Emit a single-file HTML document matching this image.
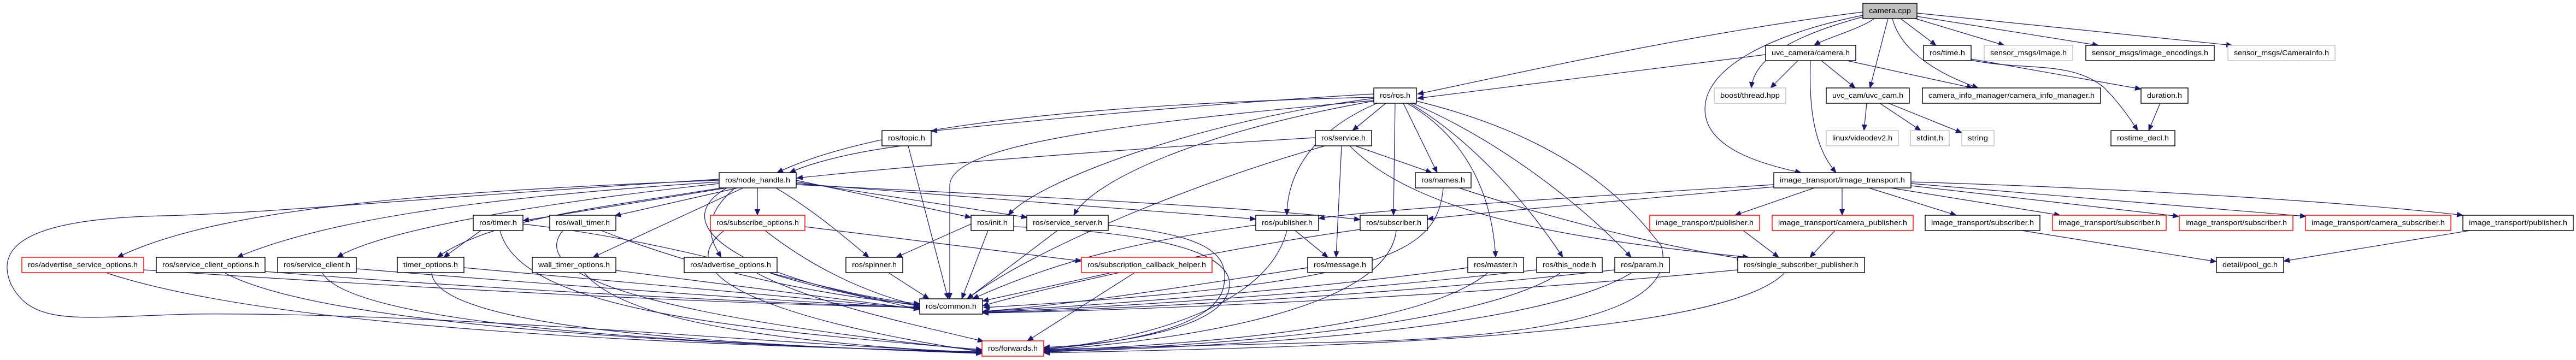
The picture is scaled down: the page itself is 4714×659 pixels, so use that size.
<!DOCTYPE html>
<html><head><meta charset="utf-8"><style>
html,body{margin:0;padding:0;background:#fff;}
svg{display:block;}
text{font-family:"Liberation Sans",sans-serif;font-size:12.5px;fill:#000;}
.e{fill:none;stroke:#191970;stroke-width:1.2;marker-end:url(#ah);}
.n{fill:#fff;stroke:#000;stroke-width:1.4;}
.g{fill:#fff;stroke:#bfbfbf;stroke-width:1.4;}
.r{fill:#fff;stroke:#ff0000;stroke-width:1.4;}
</style></head><body>
<svg width="4714" height="659" viewBox="0 0 4714 659" xmlns="http://www.w3.org/2000/svg">
<defs><marker id="ah" markerWidth="12" markerHeight="10" refX="11" refY="5" orient="auto" markerUnits="userSpaceOnUse"><path d="M0,0 L12,5 L0,10 z" fill="#191970"/></marker></defs>
<g>
<path class="e" d="M3409,22 C3100,60 2750,140 2594,172"/>
<path class="e" d="M3412,30 C3300,60 3210,100 3205,161"/>
<path class="e" d="M3430,34 C3400,55 3340,70 3320,83"/>
<path class="e" d="M3455,34 L3422,161"/>
<path class="e" d="M3463,34 C3480,100 3560,140 3620,161"/>
<path class="e" d="M3478,34 L3543,83"/>
<path class="e" d="M3505,34 L3668,83"/>
<path class="e" d="M3508,30 L3840,83"/>
<path class="e" d="M3508,24 L4085,83"/>
<path class="e" d="M3409,28 C3250,60 3120,120 3120,200 C3120,270 3220,300 3296,316"/>
<path class="e" d="M3231,100 L2594,180"/>
<path class="e" d="M3290,111 L3240,161"/>
<path class="e" d="M3333,111 L3395,161"/>
<path class="e" d="M3380,111 L3610,161"/>
<path class="e" d="M3313,111 C3310,200 3320,270 3360,316"/>
<path class="e" d="M3416,189 L3411,239"/>
<path class="e" d="M3440,189 L3515,239"/>
<path class="e" d="M3456,189 L3590,243"/>
<path class="e" d="M3607,108 L3918,163"/>
<path class="e" d="M3607,110 C3700,130 3790,110 3850,160 C3880,190 3900,220 3912,239"/>
<path class="e" d="M3953,189 L3932,239"/>
<path class="e" d="M2514,172 C2200,190 1900,220 1704,240"/>
<path class="e" d="M2514,178 C2000,190 1600,230 1422,316"/>
<path class="e" d="M1650,267 C1550,280 1480,300 1445,316"/>
<path class="e" d="M2407,252 C2100,270 1700,300 1458,326"/>
<path class="e" d="M2536,189 L2475,239"/>
<path class="e" d="M2514,180 C2200,220 1900,330 1845,394"/>
<path class="e" d="M2514,185 C2200,240 2000,330 1965,394"/>
<path class="e" d="M2520,189 C2400,240 2355,320 2355,394"/>
<path class="e" d="M2553,189 L2550,394"/>
<path class="e" d="M2568,189 L2630,316"/>
<path class="e" d="M2575,189 C2680,250 2730,350 2737,471"/>
<path class="e" d="M2580,189 C2700,260 2800,380 2860,471"/>
<path class="e" d="M2585,189 C2750,260 2900,380 2985,471"/>
<path class="e" d="M2514,184 C2000,230 1738,270 1738,340 L1738,547"/>
<path class="e" d="M2592,185 C2900,260 3000,400 3040,450 C3060,520 3000,610 2500,625 L1910,640"/>
<path class="e" d="M1662,267 L1735,547"/>
<path class="e" d="M2480,267 L2620,316"/>
<path class="e" d="M2455,267 L2445,471"/>
<path class="e" d="M2425,267 C2200,330 1900,450 1770,547"/>
<path class="e" d="M2470,267 C2600,400 2900,440 3200,471"/>
<path class="e" d="M2641,344 C2630,460 2550,520 1800,563"/>
<path class="e" d="M2670,344 C2900,420 3100,460 3190,474"/>
<path class="e" d="M1316,330 C800,350 400,380 215,471"/>
<path class="e" d="M1316,333 C900,360 600,400 434,471"/>
<path class="e" d="M1316,336 C1000,370 700,420 617,471"/>
<path class="e" d="M1320,344 C1100,380 900,400 800,471"/>
<path class="e" d="M880,422 L812,471"/>
<path class="e" d="M1330,344 L957,404"/>
<path class="e" d="M1350,344 L1125,395"/>
<path class="e" d="M1360,344 L1085,471"/>
<path class="e" d="M1386,344 L1386,394"/>
<path class="e" d="M1345,344 C1280,400 1300,440 1320,471"/>
<path class="e" d="M1420,344 C1480,380 1530,420 1590,471"/>
<path class="e" d="M1457,330 L1777,398"/>
<path class="e" d="M1457,333 L1880,398"/>
<path class="e" d="M1457,336 L2298,401"/>
<path class="e" d="M1457,338 C1900,360 2300,380 2489,402"/>
<path class="e" d="M1330,344 C1200,420 1400,520 1683,560"/>
<path class="e" d="M1316,328 C800,360 500,390 300,395 C50,400 -10,450 20,520 C60,600 150,580 350,575 C800,570 1400,630 1797,645"/>
<path class="e" d="M957,410 C1300,450 1500,540 1683,556"/>
<path class="e" d="M915,422 C950,560 1300,600 1797,640"/>
<path class="e" d="M1100,422 C1300,500 1500,540 1683,558"/>
<path class="e" d="M1030,422 C950,520 1300,590 1797,642"/>
<path class="e" d="M1473,415 L1979,478"/>
<path class="e" d="M1400,422 C1500,500 1600,540 1683,560"/>
<path class="e" d="M1325,422 C1200,520 1500,600 1797,644"/>
<path class="e" d="M1777,410 L1640,471"/>
<path class="e" d="M1808,422 L1760,547"/>
<path class="e" d="M1855,415 C2000,420 2250,440 2250,520 C2250,600 2050,630 1910,636"/>
<path class="e" d="M1935,422 L1770,547"/>
<path class="e" d="M2028,412 C2200,430 2250,460 2240,520 C2230,600 2050,630 1910,638"/>
<path class="e" d="M2370,422 L2430,471"/>
<path class="e" d="M2298,412 C2100,440 1950,470 1780,547"/>
<path class="e" d="M2355,422 C2320,560 2100,620 1910,640"/>
<path class="e" d="M2489,420 C2200,460 1900,530 1798,560"/>
<path class="e" d="M2555,422 C2540,560 2200,620 1910,641"/>
<path class="e" d="M263,494 C800,530 1400,560 1683,562"/>
<path class="e" d="M196,500 C500,600 1200,630 1797,644"/>
<path class="e" d="M485,497 C900,530 1400,555 1683,563"/>
<path class="e" d="M412,500 C600,600 1300,630 1797,646"/>
<path class="e" d="M652,492 C1000,520 1400,550 1683,564"/>
<path class="e" d="M590,500 C650,600 1300,630 1797,646"/>
<path class="e" d="M849,490 C1200,520 1500,550 1683,565"/>
<path class="e" d="M790,500 C800,600 1300,630 1797,647"/>
<path class="e" d="M1127,495 C1400,530 1600,555 1683,566"/>
<path class="e" d="M1070,500 C1150,600 1500,630 1797,647"/>
<path class="e" d="M1410,500 C1500,530 1620,550 1683,567"/>
<path class="e" d="M1385,500 C1500,560 1700,600 1800,625"/>
<path class="e" d="M1627,500 L1700,547"/>
<path class="e" d="M2030,500 L1798,551"/>
<path class="e" d="M2075,500 L1880,624"/>
<path class="e" d="M2393,490 C2200,520 1950,560 1798,570"/>
<path class="e" d="M2686,490 C2400,530 2000,560 1798,570"/>
<path class="e" d="M2722,500 C2600,600 2200,630 1910,642"/>
<path class="e" d="M2812,494 C2400,540 2000,565 1798,571"/>
<path class="e" d="M2855,500 C2700,600 2200,635 1910,643"/>
<path class="e" d="M2955,494 C2500,545 2000,568 1798,572"/>
<path class="e" d="M2985,500 C2800,610 2200,636 1910,644"/>
<path class="e" d="M3180,494 C2600,550 2000,570 1798,573"/>
<path class="e" d="M3265,500 C3150,620 2400,636 1910,646"/>
<path class="e" d="M3246,338 C2900,360 2500,385 2413,400"/>
<path class="e" d="M3246,342 C3000,365 2700,390 2612,401"/>
<path class="e" d="M3320,344 L3175,394"/>
<path class="e" d="M3371,344 L3371,394"/>
<path class="e" d="M3420,344 L3580,394"/>
<path class="e" d="M3460,344 L3770,394"/>
<path class="e" d="M3497,340 L3987,396"/>
<path class="e" d="M3497,336 L4220,396"/>
<path class="e" d="M3497,333 C3900,345 4300,370 4507,394"/>
<path class="e" d="M3190,422 L3255,471"/>
<path class="e" d="M3358,422 L3312,471"/>
<path class="e" d="M3700,422 L4056,479"/>
<path class="e" d="M4520,422 L4179,478"/>
</g>
<g>
<rect x="3409" y="6" width="99" height="28" fill="#bfbfbf" stroke="#000" stroke-width="1.4"/><text x="3420" y="24" textLength="77" lengthAdjust="spacingAndGlyphs">camera.cpp</text>
<rect class="n" x="3231" y="83" width="165" height="28"/><text x="3242" y="101" textLength="143" lengthAdjust="spacingAndGlyphs">uvc_camera/camera.h</text>
<rect class="n" x="3520" y="83" width="87" height="28"/><text x="3531" y="101" textLength="65" lengthAdjust="spacingAndGlyphs">ros/time.h</text>
<rect class="g" x="3631" y="83" width="162" height="28"/><text x="3642" y="101" textLength="140" lengthAdjust="spacingAndGlyphs">sensor_msgs/Image.h</text>
<rect class="n" x="3817" y="83" width="235" height="28"/><text x="3828" y="101" textLength="213" lengthAdjust="spacingAndGlyphs">sensor_msgs/image_encodings.h</text>
<rect class="g" x="4077" y="83" width="196" height="28"/><text x="4088" y="101" textLength="174" lengthAdjust="spacingAndGlyphs">sensor_msgs/CameraInfo.h</text>
<rect class="n" x="2514" y="161" width="78" height="28"/><text x="2525" y="179" textLength="56" lengthAdjust="spacingAndGlyphs">ros/ros.h</text>
<rect class="g" x="3137" y="161" width="131" height="28"/><text x="3148" y="179" textLength="109" lengthAdjust="spacingAndGlyphs">boost/thread.hpp</text>
<rect class="n" x="3342" y="161" width="152" height="28"/><text x="3353" y="179" textLength="130" lengthAdjust="spacingAndGlyphs">uvc_cam/uvc_cam.h</text>
<rect class="n" x="3518" y="161" width="326" height="28"/><text x="3529" y="179" textLength="304" lengthAdjust="spacingAndGlyphs">camera_info_manager/camera_info_manager.h</text>
<rect class="n" x="3918" y="161" width="86" height="28"/><text x="3929" y="179" textLength="64" lengthAdjust="spacingAndGlyphs">duration.h</text>
<rect class="g" x="3342" y="239" width="132" height="28"/><text x="3353" y="257" textLength="110" lengthAdjust="spacingAndGlyphs">linux/videodev2.h</text>
<rect class="g" x="3496" y="239" width="71" height="28"/><text x="3507" y="257" textLength="49" lengthAdjust="spacingAndGlyphs">stdint.h</text>
<rect class="g" x="3590" y="239" width="59" height="28"/><text x="3601" y="257" textLength="37" lengthAdjust="spacingAndGlyphs">string</text>
<rect class="n" x="3863" y="239" width="117" height="28"/><text x="3874" y="257" textLength="95" lengthAdjust="spacingAndGlyphs">rostime_decl.h</text>
<rect class="n" x="1614" y="239" width="90" height="28"/><text x="1625" y="257" textLength="68" lengthAdjust="spacingAndGlyphs">ros/topic.h</text>
<rect class="n" x="2407" y="239" width="103" height="28"/><text x="2418" y="257" textLength="81" lengthAdjust="spacingAndGlyphs">ros/service.h</text>
<rect class="n" x="1316" y="316" width="141" height="28"/><text x="1327" y="334" textLength="119" lengthAdjust="spacingAndGlyphs">ros/node_handle.h</text>
<rect class="n" x="2590" y="316" width="102" height="28"/><text x="2601" y="334" textLength="80" lengthAdjust="spacingAndGlyphs">ros/names.h</text>
<rect class="n" x="3246" y="316" width="251" height="28"/><text x="3257" y="334" textLength="229" lengthAdjust="spacingAndGlyphs">image_transport/image_transport.h</text>
<rect class="n" x="866" y="394" width="91" height="28"/><text x="877" y="412" textLength="69" lengthAdjust="spacingAndGlyphs">ros/timer.h</text>
<rect class="n" x="1006" y="394" width="121" height="28"/><text x="1017" y="412" textLength="99" lengthAdjust="spacingAndGlyphs">ros/wall_timer.h</text>
<rect class="r" x="1300" y="394" width="173" height="28"/><text x="1311" y="412" textLength="151" lengthAdjust="spacingAndGlyphs">ros/subscribe_options.h</text>
<rect class="n" x="1777" y="394" width="78" height="28"/><text x="1788" y="412" textLength="56" lengthAdjust="spacingAndGlyphs">ros/init.h</text>
<rect class="n" x="1879" y="394" width="149" height="28"/><text x="1890" y="412" textLength="127" lengthAdjust="spacingAndGlyphs">ros/service_server.h</text>
<rect class="n" x="2298" y="394" width="115" height="28"/><text x="2309" y="412" textLength="93" lengthAdjust="spacingAndGlyphs">ros/publisher.h</text>
<rect class="n" x="2489" y="394" width="123" height="28"/><text x="2500" y="412" textLength="101" lengthAdjust="spacingAndGlyphs">ros/subscriber.h</text>
<rect class="r" x="3019" y="394" width="201" height="28"/><text x="3030" y="412" textLength="179" lengthAdjust="spacingAndGlyphs">image_transport/publisher.h</text>
<rect class="r" x="3243" y="394" width="258" height="28"/><text x="3254" y="412" textLength="236" lengthAdjust="spacingAndGlyphs">image_transport/camera_publisher.h</text>
<rect class="n" x="3523" y="394" width="210" height="28"/><text x="3534" y="412" textLength="188" lengthAdjust="spacingAndGlyphs">image_transport/subscriber.h</text>
<rect class="r" x="3756" y="394" width="208" height="28"/><text x="3767" y="412" textLength="186" lengthAdjust="spacingAndGlyphs">image_transport/subscriber.h</text>
<rect class="r" x="3988" y="394" width="208" height="28"/><text x="3999" y="412" textLength="186" lengthAdjust="spacingAndGlyphs">image_transport/subscriber.h</text>
<rect class="r" x="4219" y="394" width="266" height="28"/><text x="4230" y="412" textLength="244" lengthAdjust="spacingAndGlyphs">image_transport/camera_subscriber.h</text>
<rect class="n" x="4507" y="394" width="202" height="28"/><text x="4518" y="412" textLength="180" lengthAdjust="spacingAndGlyphs">image_transport/publisher.h</text>
<rect class="r" x="40" y="471" width="223" height="28"/><text x="51" y="489" textLength="201" lengthAdjust="spacingAndGlyphs">ros/advertise_service_options.h</text>
<rect class="n" x="286" y="471" width="199" height="28"/><text x="297" y="489" textLength="177" lengthAdjust="spacingAndGlyphs">ros/service_client_options.h</text>
<rect class="n" x="508" y="471" width="144" height="28"/><text x="519" y="489" textLength="122" lengthAdjust="spacingAndGlyphs">ros/service_client.h</text>
<rect class="n" x="727" y="471" width="122" height="28"/><text x="738" y="489" textLength="100" lengthAdjust="spacingAndGlyphs">timer_options.h</text>
<rect class="n" x="974" y="471" width="153" height="28"/><text x="985" y="489" textLength="131" lengthAdjust="spacingAndGlyphs">wall_timer_options.h</text>
<rect class="n" x="1252" y="471" width="170" height="28"/><text x="1263" y="489" textLength="148" lengthAdjust="spacingAndGlyphs">ros/advertise_options.h</text>
<rect class="n" x="1548" y="471" width="104" height="28"/><text x="1559" y="489" textLength="82" lengthAdjust="spacingAndGlyphs">ros/spinner.h</text>
<rect class="r" x="1979" y="471" width="239" height="28"/><text x="1990" y="489" textLength="217" lengthAdjust="spacingAndGlyphs">ros/subscription_callback_helper.h</text>
<rect class="n" x="2393" y="471" width="118" height="28"/><text x="2404" y="489" textLength="96" lengthAdjust="spacingAndGlyphs">ros/message.h</text>
<rect class="n" x="2686" y="471" width="102" height="28"/><text x="2697" y="489" textLength="80" lengthAdjust="spacingAndGlyphs">ros/master.h</text>
<rect class="n" x="2812" y="471" width="120" height="28"/><text x="2823" y="489" textLength="98" lengthAdjust="spacingAndGlyphs">ros/this_node.h</text>
<rect class="n" x="2955" y="471" width="100" height="28"/><text x="2966" y="489" textLength="78" lengthAdjust="spacingAndGlyphs">ros/param.h</text>
<rect class="n" x="3180" y="471" width="232" height="28"/><text x="3191" y="489" textLength="210" lengthAdjust="spacingAndGlyphs">ros/single_subscriber_publisher.h</text>
<rect class="n" x="4056" y="471" width="123" height="28"/><text x="4067" y="489" textLength="101" lengthAdjust="spacingAndGlyphs">detail/pool_gc.h</text>
<rect class="n" x="1683" y="547" width="115" height="28"/><text x="1694" y="565" textLength="93" lengthAdjust="spacingAndGlyphs">ros/common.h</text>
<rect class="r" x="1797" y="624" width="113" height="28"/><text x="1808" y="642" textLength="91" lengthAdjust="spacingAndGlyphs">ros/forwards.h</text>
</g>
</svg>
</body></html>
